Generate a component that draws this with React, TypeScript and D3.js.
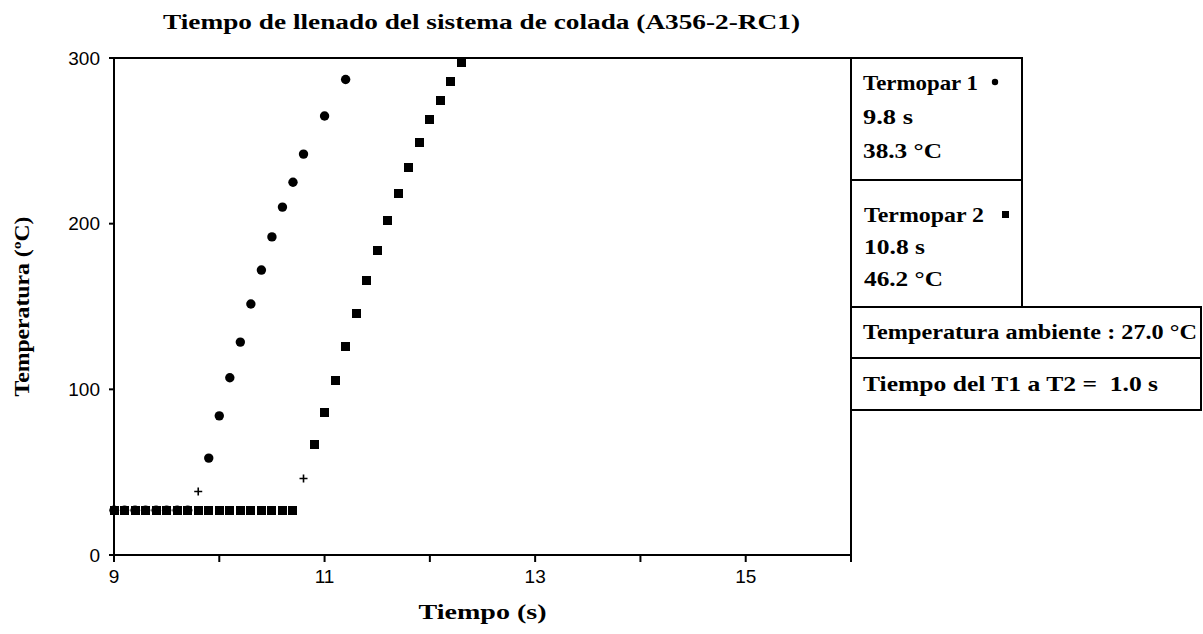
import React from 'react';
import * as d3 from 'd3';

// constants
const width = 1203;
const height = 634;
const margin = { top: 58, right: 352, bottom: 79, left: 114 };
const innerWidth = width - margin.left - margin.right;
const innerHeight = height - margin.top - margin.bottom;

// data
const termopar1Time = [9.0, 9.1, 9.2, 9.3, 9.4, 9.5, 9.6, 9.7, 9.9, 10.0, 10.1, 10.2, 10.3, 10.4, 10.5, 10.6, 10.7, 10.8, 11.0, 11.2];
const termopar1Temp = [27, 27, 27, 27, 27, 27, 27, 27, 58.5, 84, 107, 128.5, 151.5, 172, 192, 210, 225, 242, 265, 287];
const termopar2Time = [9.0, 9.1, 9.2, 9.3, 9.4, 9.5, 9.6, 9.7, 9.8, 9.9, 10.0, 10.1, 10.2, 10.3, 10.4, 10.5, 10.6, 10.7,
  10.9, 11.0, 11.1, 11.2, 11.3, 11.4, 11.5, 11.6, 11.7, 11.8, 11.9, 12.0, 12.1, 12.2, 12.3];
const termopar2Temp = [27, 27, 27, 27, 27, 27, 27, 27, 27, 27, 27, 27, 27, 27, 27, 27, 27, 27,
  67, 86, 105.5, 126, 146, 165.5, 184, 202, 218, 234, 249, 263, 274.5, 286, 297.5];
const onsetTime = [9.8, 10.8];
const onsetTemp = [38.3, 46.2];
const xTicks = [9, 10, 11, 12, 13, 14, 15, 16];
const xTickLabels = ['9', '', '11', '', '13', '', '15', ''];
const yTicks = [0, 100, 200, 300];

const legend1 = ['Termopar 1', '9.8 s', '38.3 °C'];
const legend1Len = [115, 50, 79];
const legend2 = ['Termopar 2', '10.8 s', '46.2 °C'];
const legend2Len = [120, 61, 79];
const ambiente = 'Temperatura ambiente : 27.0 °C';
const delta = 'Tiempo del T1 a T2 =  1.0 s';

const serif = "'Liberation Serif', 'Times New Roman', serif";
const sans = "'Liberation Sans Narrow', 'Liberation Sans', Arial, sans-serif";

const App = () => {
  // scales
  const x = d3.scaleLinear().domain([9, 16]).range([0, innerWidth]);
  const y = d3.scaleLinear().domain([0, 300]).range([innerHeight, 0]);

  const sq = 9;
  const lx = innerWidth; // legend left edge (plot coords)
  const fit = { lengthAdjust: 'spacingAndGlyphs' as const };

  return (
    <svg width={width} height={height} style={{ position: 'absolute', left: 0, top: 0, background: '#fff' }}>
      <text x={481.5} y={29} textAnchor="middle" fontFamily={serif} fontWeight="bold" fontSize={22}
        textLength={637} {...fit}>
        Tiempo de llenado del sistema de colada (A356-2-RC1)
      </text>
      <g transform={`translate(${margin.left},${margin.top})`}>
        {/* frame */}
        <line x1={0} x2={innerWidth} y1={0} y2={0} stroke="#000" strokeWidth={2} />
        <line x1={innerWidth} x2={innerWidth} y1={0} y2={innerHeight + 7} stroke="#000" strokeWidth={2} />
        <line x1={0} x2={0} y1={0} y2={innerHeight + 7} stroke="#000" strokeWidth={2} />
        <line x1={-5} x2={innerWidth} y1={innerHeight} y2={innerHeight} stroke="#000" strokeWidth={2} />

        {/* x ticks */}
        {xTicks.map((d, i) => (
          <g key={'x' + d} transform={`translate(${x(d)},${innerHeight})`}>
            <line y1={0} y2={7} stroke="#000" strokeWidth={2} />
            <text y={28} textAnchor="middle" fontFamily={sans} fontSize={19}>{xTickLabels[i]}</text>
          </g>
        ))}
        {/* y ticks */}
        {yTicks.map(d => (
          <g key={'y' + d} transform={`translate(0,${y(d)})`}>
            <line x1={-5} x2={0} stroke="#000" strokeWidth={2} />
            <text x={-14} dy="0.35em" textAnchor="end" fontFamily={sans} fontSize={19}>{d}</text>
          </g>
        ))}

        {/* Termopar 1 circles */}
        {termopar1Time.map((t, i) => (
          <circle key={'c' + i} cx={x(t)} cy={y(termopar1Temp[i])} r={4.7} fill="#000" />
        ))}
        {/* Termopar 2 squares */}
        {termopar2Time.map((t, i) => (
          <rect key={'s' + i} x={Math.round(x(t) - sq / 2)} y={Math.round(y(termopar2Temp[i]) - sq / 2)}
            width={sq} height={sq} fill="#000" shapeRendering="crispEdges" />
        ))}
        {/* onset crosses */}
        {onsetTime.map((t, i) => (
          <path key={'p' + i} d={`M${x(t) - 4},${y(onsetTemp[i])}h8M${x(t)},${y(onsetTemp[i]) - 4}v8`} stroke="#000" strokeWidth={1.6} />
        ))}

        {/* legend boxes */}
        <g fill="none" stroke="#000" strokeWidth={2}>
          <rect x={lx} y={0} width={171} height={122} />
          <rect x={lx} y={122} width={171} height={127} />
          <rect x={lx} y={249} width={350} height={51} />
          <rect x={lx} y={300} width={350} height={52} />
        </g>
        <g fontFamily={serif} fontWeight="bold" fontSize={21}>
          {legend1.map((s, i) => (
            <text key={'l1' + i} x={lx + 12} y={32 + i * 34} textLength={legend1Len[i]} {...fit}>{s}</text>
          ))}
          <circle cx={lx + 144} cy={24} r={3.2} fill="#000" />
          {legend2.map((s, i) => (
            <text key={'l2' + i} x={lx + 13} y={164 + i * 32} textLength={legend2Len[i]} {...fit}>{s}</text>
          ))}
          <rect x={lx + 151} y={153} width={7} height={7} fill="#000" />
          <text x={lx + 12} y={281} textLength={334} {...fit}>{ambiente}</text>
          <text x={lx + 12} y={333} textLength={295} {...fit} style={{ whiteSpace: 'pre' }}>{delta}</text>
        </g>

        {/* axis titles */}
        <text x={innerWidth / 2} y={innerHeight + 64} textAnchor="middle" fontFamily={serif} fontWeight="bold" fontSize={22}
          textLength={128} {...fit}>
          Tiempo (s)
        </text>
        <text transform={`translate(${-85},${innerHeight / 2})rotate(-90)`} textAnchor="middle" fontFamily={serif} fontWeight="bold" fontSize={22}
          textLength={180} {...fit}>
          Temperatura (ºC)
        </text>
      </g>
    </svg>
  );
};

export default App;
